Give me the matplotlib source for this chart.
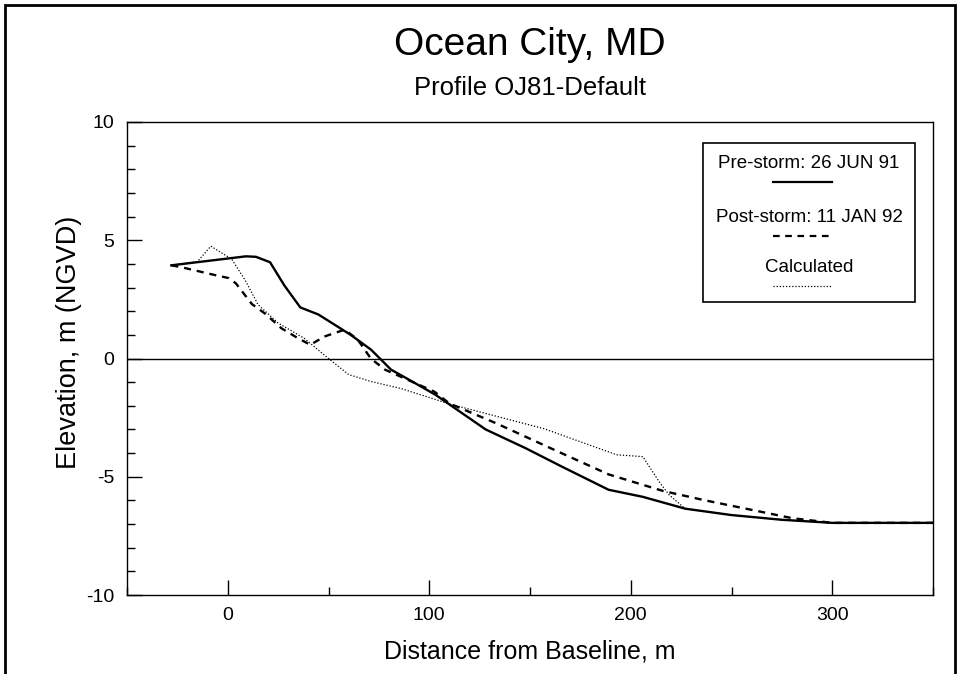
import matplotlib
matplotlib.use('Agg')
import matplotlib.pyplot as plt
from matplotlib.patches import Rectangle
from matplotlib.lines import Line2D
from matplotlib.ticker import MultipleLocator

plt.rcParams['font.family'] = ['Liberation Sans', 'DejaVu Sans']
plt.rcParams['axes.unicode_minus'] = False

# profile data (distance m, elevation m NGVD)
pre_x = [-28, 9, 14, 21, 28, 36, 45, 61, 71, 76, 81, 89, 103, 128, 148, 166, 189, 206, 227, 250, 275, 300, 350]
pre_y = [3.94, 4.32, 4.3, 4.07, 3.1, 2.16, 1.86, 1.0, 0.38, -0.04, -0.47, -0.85, -1.53, -3.0, -3.8, -4.58, -5.55, -5.85, -6.35, -6.62, -6.82, -6.95, -6.95]

post_x = [-28, -23, -8, 0.5, 4, 12, 18.5, 26.6, 35, 41, 48, 58, 64.5, 71, 78, 84, 102.5, 110, 133.5, 163, 189, 216, 237, 260, 280, 300, 350]
post_y = [3.94, 3.86, 3.56, 3.4, 3.18, 2.3, 1.9, 1.28, 0.85, 0.58, 0.93, 1.22, 0.8, 0.0, -0.47, -0.7, -1.4, -1.9, -2.75, -3.9, -4.9, -5.6, -6.0, -6.4, -6.75, -6.95, -6.95]

calc_x = [-28, -15, -8.4, 2, 9, 15, 25, 38, 50, 60, 71, 86, 103, 109, 157, 193, 206, 214, 219, 227, 250, 275, 300, 350]
calc_y = [3.94, 4.1, 4.75, 4.2, 3.26, 2.28, 1.5, 0.85, 0.0, -0.68, -0.97, -1.27, -1.73, -1.9, -2.97, -4.07, -4.15, -5.2, -5.76, -6.35, -6.62, -6.82, -6.95, -6.95]

legend_labels = ['Pre-storm: 26 JUN 91', 'Post-storm: 11 JAN 92', 'Calculated']

fig = plt.figure(figsize=(9.6, 6.74), dpi=100)
ax = fig.add_axes([127 / 960, 1 - 595 / 674, (933 - 127) / 960, (595 - 122) / 674])

ax.plot(pre_x, pre_y, color='black', lw=1.7, ls='-')
ax.plot(post_x, post_y, color='black', lw=1.7, ls=(0, (3, 2.5)))
ax.plot(calc_x, calc_y, color='black', lw=0.9, ls=(0, (1, 1.5)))
ax.axhline(0, color='black', lw=1.0)

ax.set_xlim(-50, 350)
ax.set_ylim(-10, 10)
ax.xaxis.set_major_locator(MultipleLocator(100))
ax.xaxis.set_minor_locator(MultipleLocator(50))
ax.yaxis.set_major_locator(MultipleLocator(5))
ax.yaxis.set_minor_locator(MultipleLocator(1))
ax.tick_params(which='major', direction='in', length=11, width=1, labelsize=14, pad=9,
               bottom=True, left=True, top=False, right=False)
ax.tick_params(which='minor', direction='in', length=6, width=1,
               bottom=True, left=True, top=False, right=False)
for sp in ax.spines.values():
    sp.set_linewidth(1.0)

ax.set_xlabel('Distance from Baseline, m', fontsize=18, labelpad=11)
ax.set_ylabel('Elevation, m (NGVD)', fontsize=19.5, va='center')
ax.yaxis.set_label_coords(-0.072, 0.535)

fig.text(530 / 960, 1 - 45 / 674, 'Ocean City, MD', ha='center', va='center', fontsize=28)
fig.text(530 / 960, 1 - 88 / 674, 'Profile OJ81-Default', ha='center', va='center', fontsize=18.5)

# legend box drawn by hand: label text with line sample below
lx0, lx1 = 703, 915
ly0, ly1 = 143, 302
ax.add_patch(Rectangle((lx0 / 960, 1 - ly1 / 674), (lx1 - lx0) / 960, (ly1 - ly0) / 674,
                       transform=fig.transFigure, fill=True, facecolor='white',
                       edgecolor='black', lw=1.2, zorder=5))
styles = [dict(lw=1.6, ls='-'), dict(lw=1.6, ls=(0, (3, 2.5))), dict(lw=0.9, ls=(0, (1, 1.5)))]
text_y = [164, 218, 268]
for lab, st, ty in zip(legend_labels, styles, text_y):
    fig.text((lx0 + lx1) / 2 / 960, 1 - ty / 674, lab, ha='center', va='center', fontsize=13.5, zorder=6)
    yy = 1 - (ty + 18) / 674
    fig.add_artist(Line2D([773 / 960, 832 / 960], [yy, yy], color='black', zorder=6, **st))

# outer frame around the figure
fig.add_artist(Rectangle((5 / 960, -0.05), 950 / 960, 1.05 - 5 / 674, transform=fig.transFigure,
                         fill=False, edgecolor='black', lw=2))

fig.savefig('out.png', dpi=100)
